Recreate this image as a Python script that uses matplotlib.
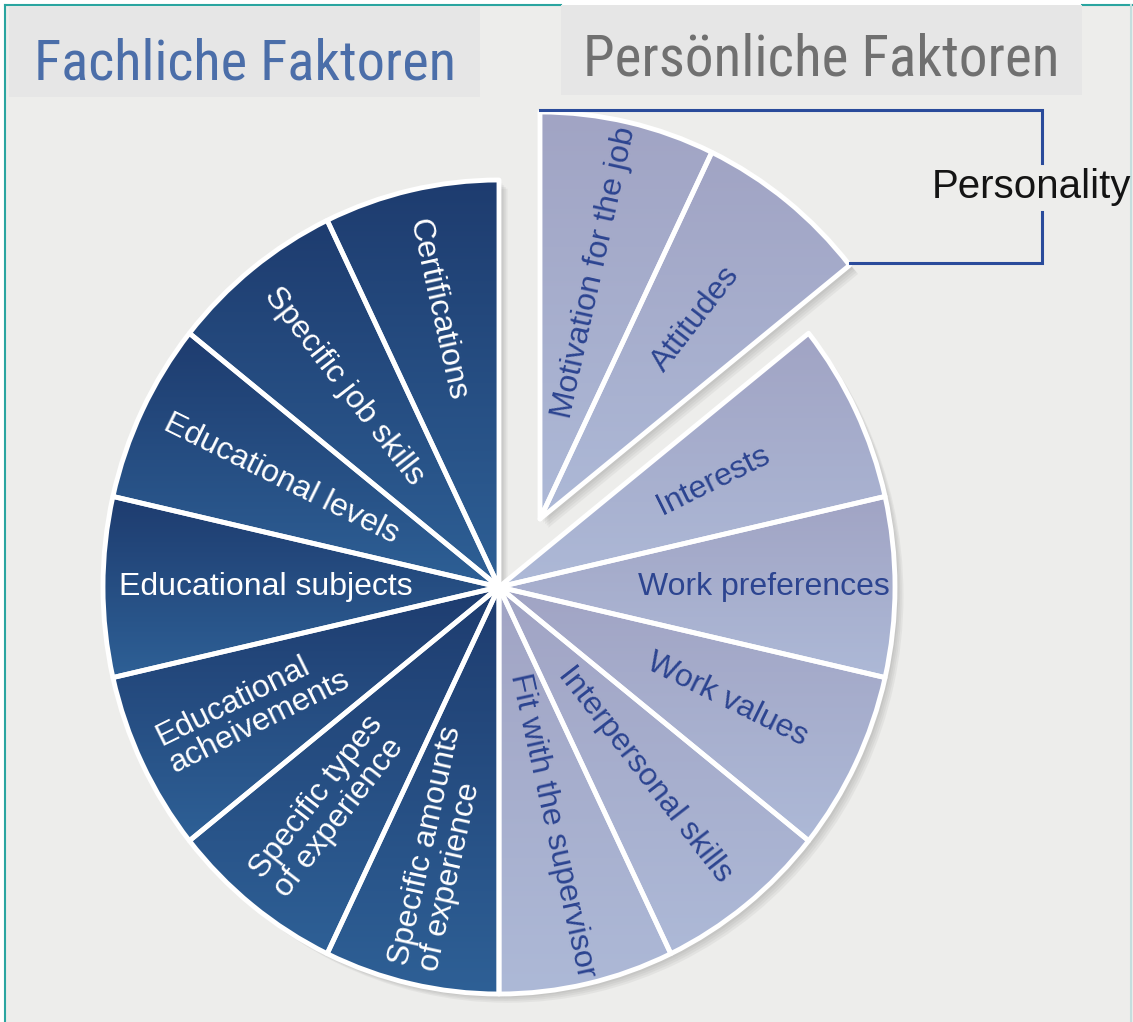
import matplotlib
matplotlib.use('Agg')
import matplotlib.pyplot as plt
import matplotlib.patches as mpatches
import matplotlib.transforms as mtransforms
from matplotlib import font_manager as fm
from matplotlib.colors import to_rgb
import numpy as np

# Daten
faktoren = ['Certifications', 'Specific job skills', 'Educational levels',
            'Educational subjects', 'Educational\nacheivements',
            'Specific types\nof experience', 'Specific amounts\nof experience',
            'Fit with the supervisor', 'Interpersonal skills', 'Work values',
            'Work preferences', 'Interests', 'Attitudes', 'Motivation for the job']
gruppe = ['fachlich'] * 7 + ['persoenlich'] * 7
anteile = [1, 1, 1, 1, 1, 1, 1, 1, 1, 1, 1, 1, 1, 1]
personality = ['Attitudes', 'Motivation for the job']
titel = ['Fachliche Faktoren', 'Persönliche Faktoren']
klammer_text = 'Personality'

# Layout (Pixel, y von oben)
W, H = 1133, 1022
CX, CY = 499, 587
RX, RY = 396, 407
label_r = [0.70, 0.63, 0.61, 0.59, 0.69, 0.69, 0.66,
           0.60, 0.59, 0.64, 0.67, 0.60, 0.63, 0.62]
explode_px = (41, -68)

BG = '#ededeb'
TEAL = '#2aa5a0'
verlauf = {'fachlich': ('#1e3c6f', '#2e6096'),
           'persoenlich': ('#a1a4c4', '#adb9d7')}
textfarbe = {'fachlich': 'white', 'persoenlich': '#2c4490'}
FONT = ['Liberation Sans', 'DejaVu Sans']


def schmale_schrift():
    # Titel sind in einer schmalen Schrift gesetzt, falls vorhanden
    namen = {f.name for f in fm.fontManager.ttflist}
    for n in ['Liberation Sans Narrow', 'Roboto Condensed', 'Open Sans Condensed',
              'Noto Sans Condensed', 'DejaVu Sans Condensed']:
        if n in namen:
            return fm.FontProperties(family=n)
    for f in fm.fontManager.ttflist:
        if ('condensed' in str(f.stretch) and f.style == 'normal'
                and str(f.weight) in ('400', 'normal', 'regular')
                and 'Mono' not in f.name and 'Serif' not in f.name):
            return fm.FontProperties(fname=f.fname)
    return fm.FontProperties(family='Liberation Sans')


fig = plt.figure(figsize=(W / 100, H / 100), dpi=100, facecolor='white')
ax = fig.add_axes([0, 0, 1, 1])
P = mtransforms.Affine2D().scale(1 / W, -1 / H).translate(0, 1) + fig.transFigure

# Hintergrund + Rahmen
ax.add_patch(mpatches.Rectangle((5, 5), W - 5, H - 5, transform=P,
                                facecolor=BG, edgecolor='none', zorder=0))
ax.plot([5, 5], [5, H], color=TEAL, lw=1.5, transform=P, zorder=0.5)
ax.plot([5, 561], [5, 5], color=TEAL, lw=1.5, transform=P, zorder=0.5)
ax.plot([1082, W], [5, 5], color=TEAL, lw=1.5, transform=P, zorder=0.5)
ax.plot([W - 2, W - 2], [5, H], color='#c4dede', lw=1.5, transform=P, zorder=0.5)

# Kreis
wedges, _ = ax.pie(anteile, startangle=90, counterclock=True, radius=1,
                   colors=[verlauf[g][0] for g in gruppe],
                   wedgeprops=dict(edgecolor='white', linewidth=3.5,
                                   joinstyle='round'))

ex = (explode_px[0] / RX, -explode_px[1] / RY)
for w, name in zip(wedges, faktoren):
    if name in personality:
        w.set_center(ex)

# weicher Schatten (Versatz von Shadow: Dateneinheiten * dpi/72)
for w in wedges:
    for k in range(1, 6):
        o = 1.7 * k / RX * 72 / 100
        ax.add_patch(mpatches.Shadow(w, o, -o, facecolor='#5a5a5a',
                                     edgecolor='none', alpha=0.07, zorder=1))

# Farbverlauf je Segment
for w, g in zip(wedges, gruppe):
    ext = w.get_path().get_extents()
    c0, c1 = verlauf[g]
    grad = np.linspace(to_rgb(c0), to_rgb(c1), 200)[:, None, :]
    im = ax.imshow(grad, extent=(ext.x0, ext.x1, ext.y0, ext.y1), origin='upper',
                   aspect='auto', interpolation='bilinear', zorder=2)
    im.set_clip_path(w)
    w.set_facecolor('none')
    w.set_zorder(3)

# Beschriftungen
for w, name, g, r in zip(wedges, faktoren, gruppe, label_r):
    mid = np.deg2rad((w.theta1 + w.theta2) / 2)
    cx, cy = w.center
    x, y = cx + r * np.cos(mid), cy + r * np.sin(mid)
    ang = np.degrees(np.arctan2(RY * np.sin(mid), RX * np.cos(mid)))
    rot = ang - 180 if np.cos(mid) < 0 else ang
    ax.text(x, y, name, rotation=rot, rotation_mode='anchor', ha='center',
            va='center', multialignment='left', linespacing=1.0, fontsize=23,
            color=textfarbe[g], family=FONT, zorder=4)

ax.set_aspect('auto')
ax.set_xlim(-CX / RX, (W - CX) / RX)
ax.set_ylim(-(H - CY) / RY, CY / RY)
ax.axis('off')

# Titelboxen
ax.add_patch(mpatches.Rectangle((9, 7), 471, 90, transform=P,
                                facecolor='#e6e6e6', edgecolor='none', zorder=0.6))
ax.add_patch(mpatches.Rectangle((561, 5), 521, 90, transform=P,
                                facecolor='#e6e6e6', edgecolor='none', zorder=0.6))
schmal = schmale_schrift()
renderer = fig.canvas.get_renderer()
for txt, x0, y0, breite, farbe in [(titel[0], 34, 79, 422, '#4b6ea9'),
                                   (titel[1], 583, 76, 477, '#707070')]:
    t = ax.text(x0, y0, txt, transform=P, fontproperties=schmal, fontsize=44,
                color=farbe, ha='left', va='baseline', zorder=5)
    bb = t.get_window_extent(renderer)
    t.set_fontsize(44 * breite / bb.width)

# Klammer "Personality"
BLAU = '#2a4b9b'
ax.plot([540, 1042, 1042], [110, 110, 163], color=BLAU, lw=2.2,
        transform=P, zorder=5, solid_joinstyle='miter')
ax.plot([1042, 1042, 850], [212, 263, 263], color=BLAU, lw=2.2,
        transform=P, zorder=5, solid_joinstyle='miter')
ax.text(932, 187, klammer_text, transform=P, fontsize=29, color='#141414',
        family=FONT, ha='left', va='center', zorder=5)

fig.savefig('out.png', dpi=100, facecolor='white')
